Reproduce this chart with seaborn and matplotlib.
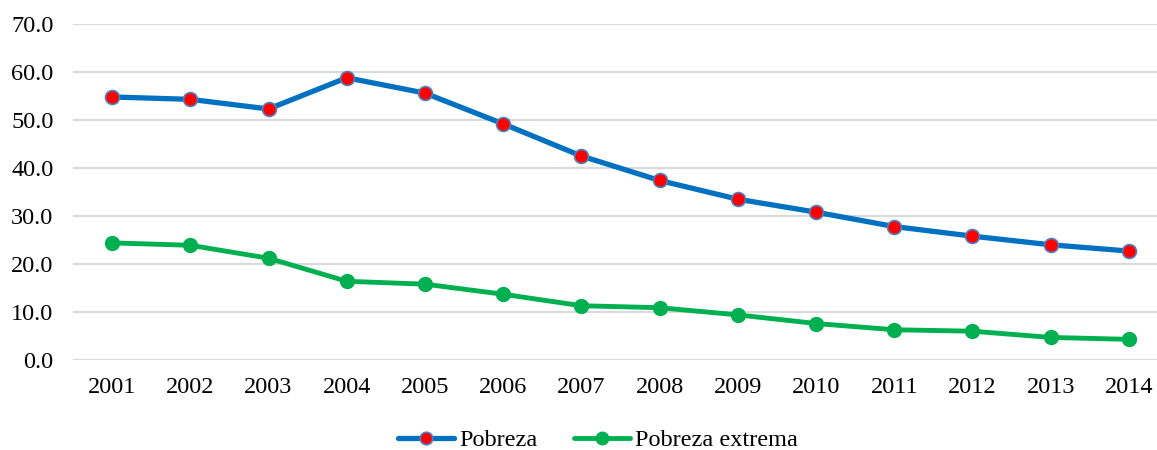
import matplotlib
matplotlib.use("Agg")
import matplotlib.pyplot as plt
import seaborn as sns
import pandas as pd
from matplotlib.lines import Line2D

years = ["2001", "2002", "2003", "2004", "2005", "2006", "2007",
         "2008", "2009", "2010", "2011", "2012", "2013", "2014"]
pobreza = [54.8, 54.3, 52.3, 58.8, 55.6, 49.2, 42.5,
           37.4, 33.5, 30.8, 27.8, 25.8, 24.0, 22.7]
pobreza_extrema = [24.4, 23.9, 21.2, 16.4, 15.8, 13.7, 11.3,
                   10.9, 9.4, 7.6, 6.3, 6.0, 4.7, 4.3]
yticks = [0, 10, 20, 30, 40, 50, 60, 70]

sns.set_theme(style="white")
plt.rcParams['font.family'] = ['Liberation Serif', 'DejaVu Serif']
plt.rcParams['text.color'] = 'black'
plt.rcParams['xtick.color'] = 'black'
plt.rcParams['ytick.color'] = 'black'

W, H = 1157, 450
fig = plt.figure(figsize=(W / 100, H / 100), dpi=100)
ax = fig.add_axes([73 / W, 1 - 360 / H, (1168 - 73) / W, (360 - 24) / H])

df = pd.DataFrame({"year": years, "Pobreza": pobreza, "Pobreza extrema": pobreza_extrema})
x = list(range(len(years)))
df["x"] = x

BLUE = "#0070C0"
GREEN = "#00B050"
FS = 17.5

sns.lineplot(data=df, x="x", y="Pobreza", ax=ax, color=BLUE, linewidth=3.8,
             marker="o", markersize=10, markerfacecolor="#FF0000",
             markeredgecolor="#4F81BD", markeredgewidth=1.2, zorder=3)
sns.lineplot(data=df, x="x", y="Pobreza extrema", ax=ax, color=GREEN, linewidth=3.5,
             marker="o", markersize=10, markerfacecolor=GREEN,
             markeredgecolor=GREEN, markeredgewidth=1, zorder=3)

ax.set_xlim(-0.5, len(years) - 0.5)
ax.set_ylim(0, 70)
ax.set_yticks(yticks)
ax.set_yticklabels([f"{v:.1f}" for v in yticks], fontsize=FS)
ax.set_xticks(x)
ax.set_xticklabels(years, fontsize=FS)
ax.tick_params(axis="y", length=0, pad=14, labelcolor="black")
ax.tick_params(axis="x", length=0, pad=12, labelcolor="black")
ax.set_xlabel("")
ax.set_ylabel("")
for s in ax.spines.values():
    s.set_visible(False)
ax.yaxis.grid(True, color="#D9D9D9", linewidth=1.5)
ax.xaxis.grid(False)
ax.set_axisbelow(True)

handles = [
    Line2D([], [], color=BLUE, linewidth=3.8, marker="o", markersize=9,
           markerfacecolor="#FF0000", markeredgecolor="#4F81BD", markeredgewidth=1.2),
    Line2D([], [], color=GREEN, linewidth=3.5, marker="o", markersize=9,
           markerfacecolor=GREEN, markeredgecolor=GREEN),
]
fig.legend(handles, ["Pobreza", "Pobreza extrema"], loc="center",
           bbox_to_anchor=(598 / W, 1 - 440 / H), ncol=2, frameon=False,
           fontsize=FS, handlelength=2.3, handletextpad=0.2, columnspacing=1.5)

fig.savefig("out.png", dpi=100, facecolor="white")
